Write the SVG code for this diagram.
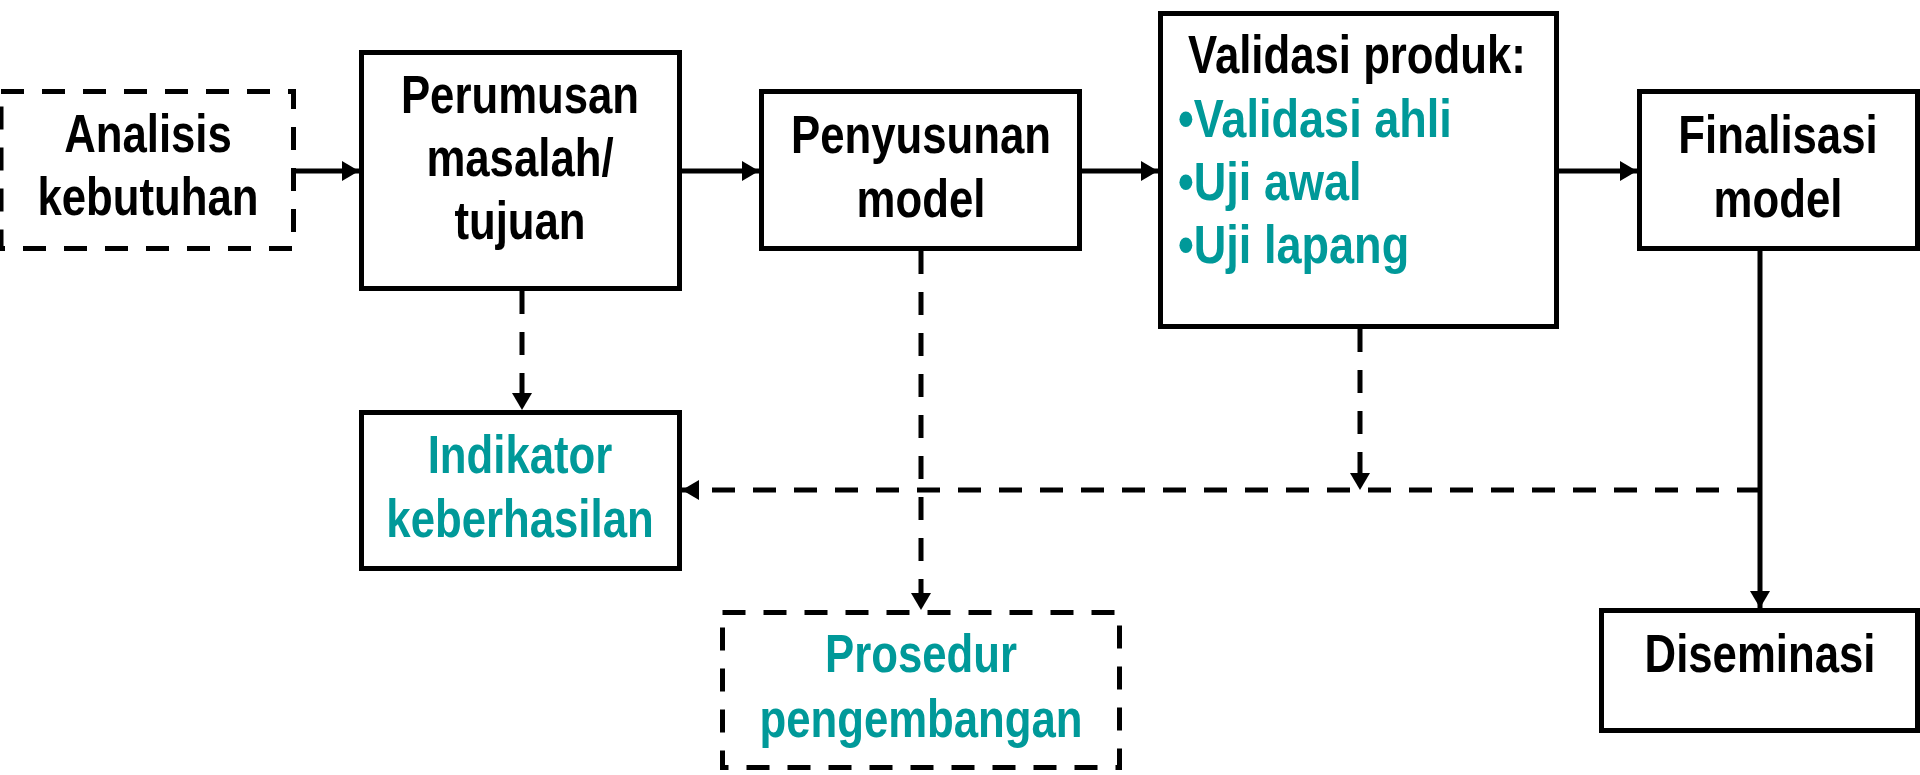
<svg xmlns="http://www.w3.org/2000/svg" width="1920" height="775" viewBox="0 0 1920 775">
<defs>
<style>
.box{fill:#fff;stroke:#000;stroke-width:5}
.dbox{fill:#fff;stroke:#000;stroke-width:5;stroke-dasharray:23 18}
.t{font-family:"Liberation Sans",Arial,sans-serif;font-weight:bold;font-size:54px;fill:#000;text-anchor:middle}
.s{text-anchor:start}
.teal{fill:#009999}
.ln{fill:none;stroke:#000;stroke-width:5}
.dl{fill:none;stroke:#000;stroke-width:5;stroke-dasharray:23 18}
</style>
<marker id="ah" markerUnits="userSpaceOnUse" markerWidth="18" markerHeight="20" refX="17" refY="10" orient="auto">
<path d="M0,0 L17,10 L0,20 Z" fill="#000"/>
</marker>
</defs>
<rect width="1920" height="775" fill="#fff"/>
<g id="connectors">
<path class="ln" d="M296,171 H359" marker-end="url(#ah)"/>
<path class="ln" d="M682,171 H759" marker-end="url(#ah)"/>
<path class="ln" d="M1082,171 H1158" marker-end="url(#ah)"/>
<path class="ln" d="M1559,171 H1637" marker-end="url(#ah)"/>
<path class="dl" d="M522,291 V410" marker-end="url(#ah)"/>
<path class="dl" d="M921,251 V610" marker-end="url(#ah)"/>
<path class="dl" d="M1360,329 V490" marker-end="url(#ah)"/>
<path class="dl" d="M1760,490 H682" marker-end="url(#ah)"/>
<path class="ln" d="M1760,251 V608" marker-end="url(#ah)"/>
</g>
<g id="analisis">
<rect class="dbox" x="1" y="91.5" width="292.5" height="157"/>
<text class="t" transform="matrix(0.81 0 0 1 148 0)" x="0" y="152">Analisis</text>
<text class="t" transform="matrix(0.81 0 0 1 148 0)" x="0" y="215">kebutuhan</text>
</g>
<g id="perumusan">
<rect class="box" x="361.5" y="52.5" width="318" height="236"/>
<text class="t" transform="matrix(0.81 0 0 1 520 0)" x="0" y="113">Perumusan</text>
<text class="t" transform="matrix(0.81 0 0 1 520 0)" x="0" y="176">masalah/</text>
<text class="t" transform="matrix(0.81 0 0 1 520 0)" x="0" y="239">tujuan</text>
</g>
<g id="penyusunan">
<rect class="box" x="761.5" y="91.5" width="318" height="157"/>
<text class="t" transform="matrix(0.81 0 0 1 921 0)" x="0" y="153">Penyusunan</text>
<text class="t" transform="matrix(0.81 0 0 1 921 0)" x="0" y="217">model</text>
</g>
<g id="validasi">
<rect class="box" x="1160.5" y="13.5" width="396" height="313"/>
<text class="t" transform="matrix(0.81 0 0 1 1357 0)" x="0" y="73">Validasi produk:</text>
<text class="t s teal" transform="matrix(0.835 0 0 1 1178 0)" x="0" y="137">•Validasi ahli</text>
<text class="t s teal" transform="matrix(0.835 0 0 1 1178 0)" x="0" y="200">•Uji awal</text>
<text class="t s teal" transform="matrix(0.835 0 0 1 1178 0)" x="0" y="263">•Uji lapang</text>
</g>
<g id="finalisasi">
<rect class="box" x="1639.5" y="91.5" width="278" height="157"/>
<text class="t" transform="matrix(0.81 0 0 1 1778 0)" x="0" y="153">Finalisasi</text>
<text class="t" transform="matrix(0.81 0 0 1 1778 0)" x="0" y="217">model</text>
</g>
<g id="indikator">
<rect class="box" x="361.5" y="412.5" width="318" height="156"/>
<text class="t teal" transform="matrix(0.81 0 0 1 520 0)" x="0" y="473">Indikator</text>
<text class="t teal" transform="matrix(0.81 0 0 1 520 0)" x="0" y="537">keberhasilan</text>
</g>
<g id="prosedur">
<rect class="dbox" x="722.5" y="612.5" width="397" height="155"/>
<text class="t teal" transform="matrix(0.81 0 0 1 921 0)" x="0" y="672">Prosedur</text>
<text class="t teal" transform="matrix(0.81 0 0 1 921 0)" x="0" y="737">pengembangan</text>
</g>
<g id="diseminasi">
<rect class="box" x="1601.5" y="610.5" width="316" height="120"/>
<text class="t" transform="matrix(0.81 0 0 1 1760 0)" x="0" y="672">Diseminasi</text>
</g>
</svg>
